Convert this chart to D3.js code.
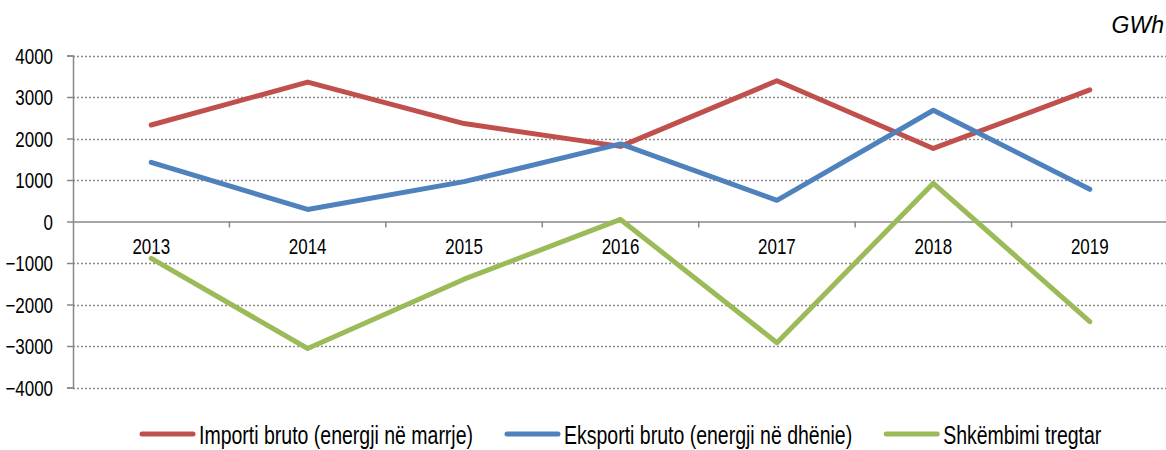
<!DOCTYPE html>
<html>
<head>
<meta charset="utf-8">
<script src="https://cdn.jsdelivr.net/npm/d3@7"></script>
<style>
  body { margin: 0; background: #fff; }
  svg text { font-family: "Liberation Sans", Arial, sans-serif; fill: #000; }
</style>
</head>
<body>
<div id="chart"></div>
<script>
  // DATA
  const years = ["2013", "2014", "2015", "2016", "2017", "2018", "2019"];
  const importi = [2325, 3360, 2360, 1810, 3390, 1760, 3170];
  const eksporti = [1425, 290, 960, 1870, 510, 2680, 775];
  const shkembimi = [-890, -3060, -1390, 50, -2920, 920, -2415];
  const yTicks = [-4000, -3000, -2000, -1000, 0, 1000, 2000, 3000, 4000];
  const seriesNames = ["Importi bruto (energji në marrje)", "Eksporti bruto (energji në dhënie)", "Shkëmbimi tregtar"];
  const colors = ["#C0504D", "#4F81BD", "#9BBB59"];

  const width = 1166;
  const height = 450;
  const plotLeft = 73, plotRight = 1168, plotTop = 55.5, plotBottom = 387.5;
  const squeeze = 0.77; // the original font is narrow

  const svg = d3.select("#chart").append("svg")
    .attr("width", width)
    .attr("height", height);

  // SCALES
  const xScale = d3.scaleBand().domain(years).range([plotLeft, plotRight]);
  const yScale = d3.scaleLinear().domain([-4000, 4000]).range([plotBottom, plotTop]);

  // GRIDLINES (dotted)
  svg.append("g").selectAll("line")
    .data(yTicks.filter(d => d !== 0))
    .enter().append("line")
    .attr("x1", plotLeft).attr("x2", width)
    .attr("y1", d => Math.round(yScale(d)) + 0.5)
    .attr("y2", d => Math.round(yScale(d)) + 0.5)
    .attr("stroke", "#8c8c8c")
    .attr("stroke-width", 1.3)
    .attr("stroke-dasharray", "2,2");

  // Y AXIS
  const yAxis = d3.axisLeft(yScale).tickValues(yTicks).tickSize(6).tickFormat(d3.format("d"));
  const gy = svg.append("g")
    .attr("transform", "translate(" + plotLeft + ",0)")
    .call(yAxis);
  gy.select(".domain").attr("stroke", "#888").attr("stroke-width", 1.5);
  gy.selectAll(".tick line").attr("stroke", "#888").attr("stroke-width", 1.5);
  gy.selectAll(".tick text")
    .attr("x", 0)
    .attr("dy", "0.36em")
    .attr("transform", "translate(-20,0) scale(" + squeeze + ",1)")
    .style("font-size", "22px");

  // X AXIS at zero
  const xAxis = d3.axisBottom(xScale).tickSize(0);
  const gx = svg.append("g")
    .attr("transform", "translate(0," + yScale(0) + ")")
    .call(xAxis);
  gx.select(".domain").attr("stroke", "#888").attr("stroke-width", 1.5);
  gx.selectAll(".tick text")
    .attr("y", 0)
    .attr("dy", 0)
    .attr("transform", "translate(0,32.5) scale(" + squeeze + ",1)")
    .style("font-size", "22px");

  // category boundary ticks
  gx.selectAll(".boundary")
    .data(years.slice(1))
    .enter().append("line")
    .attr("x1", d => xScale(d)).attr("x2", d => xScale(d))
    .attr("y1", 0).attr("y2", 6)
    .attr("stroke", "#888").attr("stroke-width", 1.5);

  // LINES
  const allSeries = [importi, eksporti, shkembimi];
  const line = d3.line()
    .x((d, i) => xScale(years[i]) + xScale.bandwidth() / 2)
    .y(d => yScale(d));

  svg.append("g").selectAll("path")
    .data(allSeries)
    .enter().append("path")
    .attr("d", d => line(d))
    .attr("fill", "none")
    .attr("stroke", (d, i) => colors[i])
    .attr("stroke-width", 5)
    .attr("stroke-linecap", "round")
    .attr("stroke-linejoin", "round");

  // UNIT
  svg.append("text")
    .attr("x", 1164)
    .attr("y", 33)
    .attr("text-anchor", "end")
    .style("font-style", "italic")
    .style("font-size", "23px")
    .text("GWh");

  // LEGEND
  const legendScale = 0.78;
  let legendX = 140;
  seriesNames.forEach(function(name, i) {
    const g = svg.append("g").attr("transform", "translate(" + legendX + ",434)");
    g.append("line")
      .attr("x1", 2).attr("x2", 53)
      .attr("y1", 0).attr("y2", 0)
      .attr("stroke", colors[i])
      .attr("stroke-width", 5)
      .attr("stroke-linecap", "round");
    const t = g.append("text")
      .attr("transform", "translate(59,10) scale(" + legendScale + ",1)")
      .style("font-size", "25px")
      .text(name);
    legendX += 59 + t.node().getComputedTextLength() * legendScale + 32;
  });
</script>
</body>
</html>
